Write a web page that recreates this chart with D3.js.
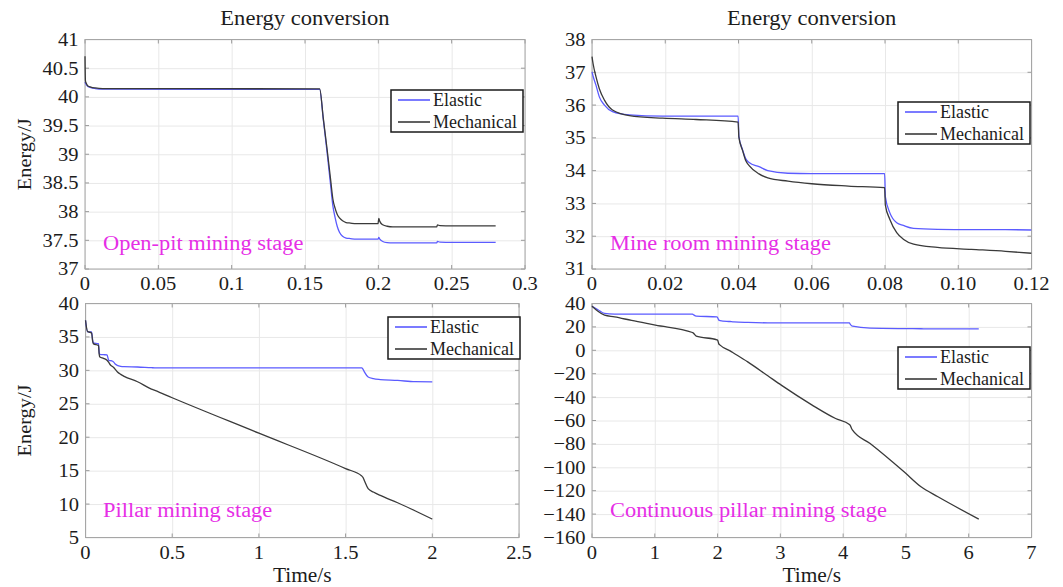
<!DOCTYPE html>
<html>
<head>
<meta charset="utf-8">
<script src="https://cdn.jsdelivr.net/npm/d3@7"></script>
<style>
  body { margin: 0; background: #fff; }
  svg { display: block; }
  text { font-family: "Liberation Serif", "Times New Roman", serif; fill: #1c1c1c; }
</style>
</head>
<body>
<svg id="chart" width="1063" height="587"></svg>
<script>
// ---- Open-pit mining stage ----
const openPitTime = [0, 0.0003, 0.001, 0.002, 0.004, 0.007, 0.012, 0.16, 0.1625, 0.165, 0.1675, 0.169, 0.1705, 0.172, 0.1735, 0.1756, 0.178, 0.181, 0.185, 0.1998, 0.2003, 0.201, 0.203, 0.206, 0.21, 0.2398, 0.2403, 0.242, 0.25, 0.28];
const openPitElastic = [40.26, 40.24, 40.21, 40.18, 40.16, 40.145, 40.135, 40.13, 39.6, 39.05, 38.45, 38.1, 37.9, 37.74, 37.64, 37.57, 37.54, 37.53, 37.52, 37.52, 37.55, 37.52, 37.48, 37.46, 37.455, 37.455, 37.48, 37.47, 37.465, 37.465];
const openPitMechanical = [40.71, 40.28, 40.23, 40.19, 40.17, 40.155, 40.145, 40.14, 39.62, 39.1, 38.55, 38.22, 38.06, 37.95, 37.89, 37.84, 37.81, 37.8, 37.79, 37.79, 37.88, 37.83, 37.77, 37.745, 37.735, 37.735, 37.77, 37.755, 37.75, 37.75];
const openPitXTicks = [0, 0.05, 0.1, 0.15, 0.2, 0.25, 0.3];
const openPitXLabels = ["0", "0.05", "0.1", "0.15", "0.2", "0.25", "0.3"];
const openPitYTicks = [37, 37.5, 38, 38.5, 39, 39.5, 40, 40.5, 41];
const openPitYLabels = ["37", "37.5", "38", "38.5", "39", "39.5", "40", "40.5", "41"];

// ---- Mine room mining stage ----
const roomTime = [0, 0.0003, 0.0011, 0.002, 0.0034, 0.0056, 0.0102, 0.0193, 0.0284, 0.0399, 0.0401, 0.0411, 0.042, 0.0429, 0.0456, 0.048, 0.0535, 0.06, 0.07, 0.0799, 0.0801, 0.0813, 0.0832, 0.085, 0.0878, 0.0943, 0.1036, 0.1129, 0.12];
const roomElastic = [37.01, 36.88, 36.6, 36.25, 36.0, 35.8, 35.7, 35.66, 35.66, 35.66, 35.05, 34.64, 34.36, 34.25, 34.12, 34.0, 33.92, 33.91, 33.91, 33.91, 33.2, 32.72, 32.41, 32.33, 32.24, 32.21, 32.2, 32.2, 32.19];
const roomMechanical = [37.48, 37.26, 36.86, 36.5, 36.15, 35.85, 35.68, 35.6, 35.56, 35.48, 35.02, 34.62, 34.3, 34.15, 33.9, 33.78, 33.68, 33.6, 33.53, 33.48, 32.95, 32.52, 32.11, 31.91, 31.76, 31.66, 31.6, 31.54, 31.48];
const roomXTicks = [0, 0.02, 0.04, 0.06, 0.08, 0.10, 0.12];
const roomXLabels = ["0", "0.02", "0.04", "0.06", "0.08", "0.10", "0.12"];
const roomYTicks = [31, 32, 33, 34, 35, 36, 37, 38];
const roomYLabels = ["31", "32", "33", "34", "35", "36", "37", "38"];

// ---- Pillar mining stage ----
const pillarTime = [0, 0.012, 0.035, 0.041, 0.045, 0.075, 0.079, 0.083, 0.104, 0.124, 0.134, 0.144, 0.154, 0.164, 0.173, 0.183, 0.203, 0.223, 0.3, 0.38, 0.4, 0.5, 1.0, 1.5, 1.593, 1.6, 1.61, 1.63, 1.66, 1.7, 1.8, 1.9, 2.0];
const pillarElastic = [37.5, 35.76, 35.76, 34.6, 34.1, 34.0, 32.6, 32.4, 32.35, 32.3, 31.5, 31.45, 31.4, 31.2, 30.9, 30.75, 30.6, 30.55, 30.5, 30.4, 30.38, 30.38, 30.38, 30.38, 30.38, 30.2, 29.7, 29.0, 28.75, 28.62, 28.5, 28.3, 28.28];
const pillarMechanical = [37.5, 35.8, 35.6, 34.4, 34.0, 33.7, 32.4, 32.0, 31.8, 31.5, 31.2, 30.8, 30.6, 30.4, 30.1, 29.8, 29.4, 29.1, 28.3, 27.2, 27.0, 25.9, 20.6, 15.3, 14.2, 14.0, 13.4, 12.3, 11.8, 11.3, 10.2, 9.0, 7.75];
const pillarXTicks = [0, 0.5, 1, 1.5, 2, 2.5];
const pillarXLabels = ["0", "0.5", "1", "1.5", "2", "2.5"];
const pillarYTicks = [5, 10, 15, 20, 25, 30, 35, 40];
const pillarYLabels = ["5", "10", "15", "20", "25", "30", "35", "40"];

// ---- Continuous pillar mining stage ----
const contTime = [0, 0.09, 0.2, 0.36, 0.63, 1.01, 1.6, 1.61, 1.66, 1.99, 2.0, 2.02, 2.04, 2.2, 2.26, 2.48, 2.8, 3.02, 3.5, 3.88, 4.1, 4.11, 4.14, 4.15, 4.43, 4.97, 5.24, 5.51, 6.16];
const contElastic = [37.7, 34.9, 31.5, 31.0, 30.9, 30.9, 30.9, 30.6, 29.2, 28.6, 28.0, 25.8, 25.4, 24.6, 24.3, 23.8, 23.5, 23.5, 23.5, 23.5, 23.5, 22.5, 20.8, 20.6, 18.9, 18.5, 18.4, 18.3, 18.3];
const contMechanical = [37.7, 33.6, 30.0, 28.6, 25.5, 21.5, 15.2, 14.9, 12.1, 8.9, 8.7, 5.5, 4.4, -0.5, -2.5, -9.9, -21.8, -30.0, -46.6, -58.3, -63.4, -64.0, -67.5, -68.3, -79.7, -103.9, -116.7, -125.2, -144.3];
const contXTicks = [0, 1, 2, 3, 4, 5, 6, 7];
const contXLabels = ["0", "1", "2", "3", "4", "5", "6", "7"];
const contYTicks = [-160, -140, -120, -100, -80, -60, -40, -20, 0, 20, 40];
const contYLabels = ["\u2212160", "\u2212140", "\u2212120", "\u2212100", "\u221280", "\u221260", "\u221240", "\u221220", "0", "20", "40"];

const seriesNames = ["Elastic", "Mechanical"];
const seriesColors = ["#5b5bff", "#3a3a3a"];

// Layout of the four axes boxes (pixels)
const panels = [
  { time: openPitTime, series: [openPitElastic, openPitMechanical], xDomain: [0, 0.3], yDomain: [37, 41],
    xTicks: openPitXTicks, xLabels: openPitXLabels, yTicks: openPitYTicks, yLabels: openPitYLabels,
    box: { x0: 85, x1: 525, y0: 39.5, y1: 269 }, title: "Energy conversion", ylabel: "Energy/J", xlabel: null,
    stage: "Open-pit mining stage", stageAt: [103, 250], legend: { x: 391, y: 90 } },
  { time: roomTime, series: [roomElastic, roomMechanical], xDomain: [0, 0.12], yDomain: [31, 38],
    xTicks: roomXTicks, xLabels: roomXLabels, yTicks: roomYTicks, yLabels: roomYLabels,
    box: { x0: 592, x1: 1031.5, y0: 39.5, y1: 269 }, title: "Energy conversion", ylabel: null, xlabel: null,
    stage: "Mine room mining stage", stageAt: [610, 250], legend: { x: 898, y: 102 } },
  { time: pillarTime, series: [pillarElastic, pillarMechanical], xDomain: [0, 2.5], yDomain: [5, 40],
    xTicks: pillarXTicks, xLabels: pillarXLabels, yTicks: pillarYTicks, yLabels: pillarYLabels,
    box: { x0: 85.5, x1: 519, y0: 303.5, y1: 537.5 }, title: null, ylabel: "Energy/J", xlabel: "Time/s",
    stage: "Pillar mining stage", stageAt: [103, 517], legend: { x: 388, y: 317 } },
  { time: contTime, series: [contElastic, contMechanical], xDomain: [0, 7], yDomain: [-160, 40],
    xTicks: contXTicks, xLabels: contXLabels, yTicks: contYTicks, yLabels: contYLabels,
    box: { x0: 592, x1: 1031.5, y0: 303.5, y1: 537.5 }, title: null, ylabel: null, xlabel: "Time/s",
    stage: "Continuous pillar mining stage", stageAt: [610, 517], legend: { x: 898, y: 347 } }
];

// Widen a Times-metric serif horizontally so it sets like a book face
function widen(sel, k) {
  sel.each(function () {
    const len = this.getComputedTextLength();
    d3.select(this).attr("textLength", len * k).attr("lengthAdjust", "spacingAndGlyphs");
  });
  return sel;
}

const svg = d3.select("#chart");

panels.forEach((p, pi) => {
  const b = p.box;
  const w = b.x1 - b.x0, h = b.y1 - b.y0;
  const x = d3.scaleLinear().domain(p.xDomain).range([b.x0, b.x1]);
  const y = d3.scaleLinear().domain(p.yDomain).range([b.y1, b.y0]);
  const g = svg.append("g");

  // grid
  const gridX = g.append("g").attr("transform", `translate(0,${b.y1})`)
    .call(d3.axisBottom(x).tickValues(p.xTicks).tickSize(-h).tickFormat(""));
  const gridY = g.append("g").attr("transform", `translate(${b.x0},0)`)
    .call(d3.axisLeft(y).tickValues(p.yTicks).tickSize(-w).tickFormat(""));
  [gridX, gridY].forEach(gg => {
    gg.select(".domain").remove();
    gg.selectAll(".tick line").attr("stroke", "#e8e8e8").attr("stroke-width", 1);
  });

  // inward tick marks on all four sides
  const tl = 4;
  const tickG = g.append("g").attr("stroke", "#9a9a9a").attr("stroke-width", 1);
  p.xTicks.forEach(v => {
    tickG.append("line").attr("x1", x(v)).attr("x2", x(v)).attr("y1", b.y1).attr("y2", b.y1 - tl);
    tickG.append("line").attr("x1", x(v)).attr("x2", x(v)).attr("y1", b.y0).attr("y2", b.y0 + tl);
  });
  p.yTicks.forEach(v => {
    tickG.append("line").attr("x1", b.x0).attr("x2", b.x0 + tl).attr("y1", y(v)).attr("y2", y(v));
    tickG.append("line").attr("x1", b.x1).attr("x2", b.x1 - tl).attr("y1", y(v)).attr("y2", y(v));
  });

  // axes frame
  g.append("rect").attr("x", b.x0).attr("y", b.y0).attr("width", w).attr("height", h)
    .attr("fill", "none").attr("stroke", "#a6a6a6").attr("stroke-width", 1);

  // tick labels
  widen(g.append("g").selectAll("text").data(p.xTicks).join("text")
    .attr("x", d => x(d)).attr("y", b.y1 + 21).attr("text-anchor", "middle")
    .attr("font-size", 19).text((d, i) => p.xLabels[i]), 1.08);
  widen(g.append("g").selectAll("text").data(p.yTicks).join("text")
    .attr("x", b.x0 - 6.5).attr("y", d => y(d)).attr("dy", "0.34em").attr("text-anchor", "end")
    .attr("font-size", 19).text((d, i) => p.yLabels[i]), 1.08);

  // curves
  const clipId = "clip" + pi;
  svg.append("clipPath").attr("id", clipId).append("rect")
    .attr("x", b.x0 - 1).attr("y", b.y0 - 1).attr("width", w + 1).attr("height", h + 1);
  const line = d3.line().x(d => x(d[0])).y(d => y(d[1])).curve(d3.curveMonotoneX);
  p.series.forEach((vals, si) => {
    const pts = p.time.map((t, k) => [t, vals[k]]);
    g.append("path").datum(pts).attr("d", line).attr("clip-path", `url(#${clipId})`)
      .attr("fill", "none").attr("stroke", seriesColors[si]).attr("stroke-width", 1.3)
      .attr("stroke-linejoin", "round");
  });

  // stage annotation
  widen(g.append("text").attr("x", p.stageAt[0]).attr("y", p.stageAt[1])
    .attr("font-size", 20).style("fill", "#e62ee6").text(p.stage), 1.12);

  // legend
  const lg = g.append("g").attr("transform", `translate(${p.legend.x},${p.legend.y})`);
  lg.append("rect").attr("width", 132).attr("height", 42).attr("fill", "#fff")
    .attr("stroke", "#1a1a1a").attr("stroke-width", 1.5);
  seriesNames.forEach((name, si) => {
    const cy = 10 + si * 22;
    lg.append("line").attr("x1", 7).attr("x2", 39).attr("y1", cy).attr("y2", cy)
      .attr("stroke", seriesColors[si]).attr("stroke-width", 1.6);
    lg.append("text").attr("x", 42).attr("y", cy + 6).attr("font-size", 18).text(name);
  });

  // titles and axis labels
  if (p.title) {
    widen(g.append("text").attr("x", (b.x0 + b.x1) / 2).attr("y", 25).attr("text-anchor", "middle")
      .attr("font-size", 20.5).text(p.title), 1.1);
  }
  if (p.ylabel) {
    widen(g.append("text").attr("transform", `translate(31,${(b.y0 + b.y1) / 2}) rotate(-90)`)
      .attr("text-anchor", "middle").attr("font-size", 19).text(p.ylabel), 1.07);
  }
  if (p.xlabel) {
    widen(g.append("text").attr("x", (b.x0 + b.x1) / 2).attr("y", 582).attr("text-anchor", "middle")
      .attr("font-size", 20).text(p.xlabel), 1.07);
  }
});
</script>
</body>
</html>
